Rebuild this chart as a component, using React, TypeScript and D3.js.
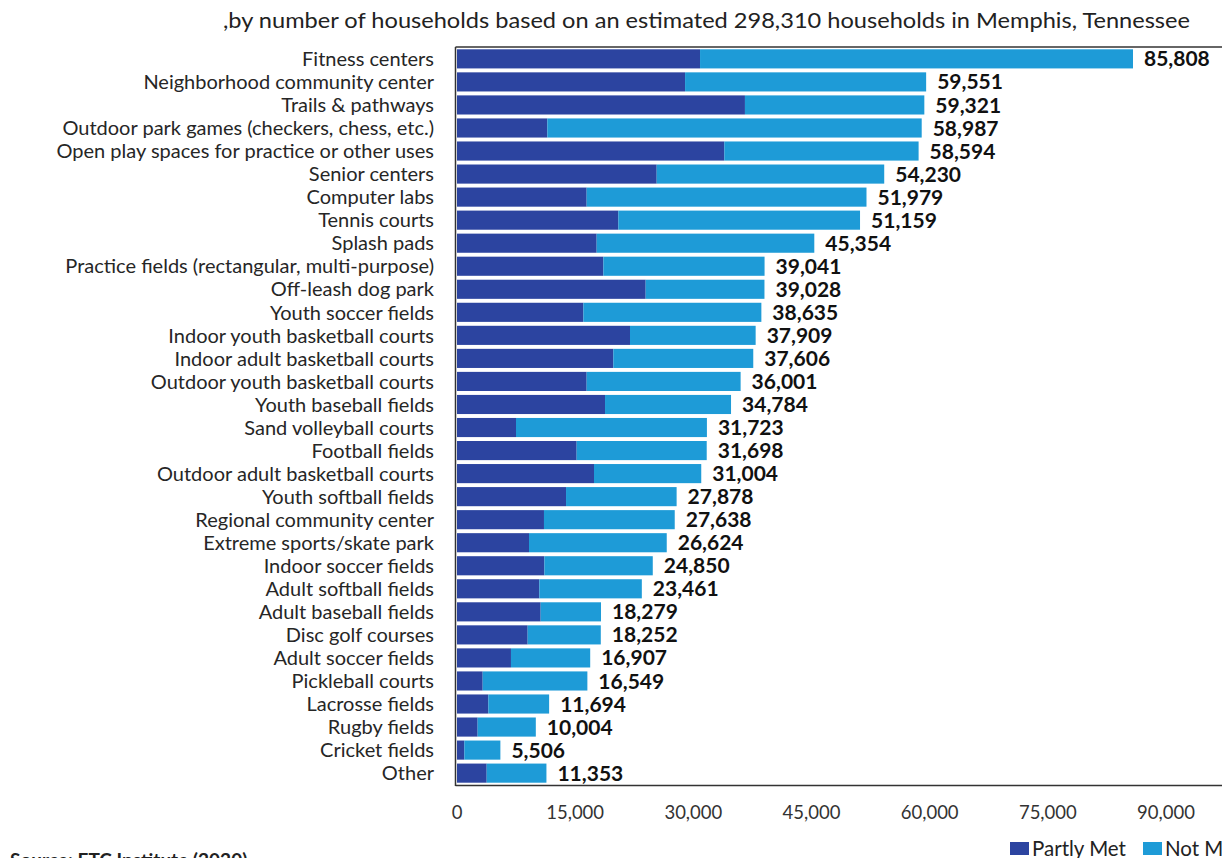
import React from "react";
import * as d3 from "d3";

const categories = [
  "Fitness centers",
  "Neighborhood community center",
  "Trails & pathways",
  "Outdoor park games (checkers, chess, etc.)",
  "Open play spaces for practice or other uses",
  "Senior centers",
  "Computer labs",
  "Tennis courts",
  "Splash pads",
  "Practice fields (rectangular, multi-purpose)",
  "Off-leash dog park",
  "Youth soccer fields",
  "Indoor youth basketball courts",
  "Indoor adult basketball courts",
  "Outdoor youth basketball courts",
  "Youth baseball fields",
  "Sand volleyball courts",
  "Football fields",
  "Outdoor adult basketball courts",
  "Youth softball fields",
  "Regional community center",
  "Extreme sports/skate park",
  "Indoor soccer fields",
  "Adult softball fields",
  "Adult baseball fields",
  "Disc golf courses",
  "Adult soccer fields",
  "Pickleball courts",
  "Lacrosse fields",
  "Rugby fields",
  "Cricket fields",
  "Other",
];

const totals = [
  85808, 59551, 59321, 58987, 58594, 54230, 51979, 51159, 45354, 39041, 39028,
  38635, 37909, 37606, 36001, 34784, 31723, 31698, 31004, 27878, 27638, 26624,
  24850, 23461, 18279, 18252, 16907, 16549, 11694, 10004, 5506, 11353,
];

const partlyMet = [
  30850, 28950, 36550, 11470, 33930, 25350, 16460, 20480, 17730, 18580, 23950,
  16040, 21960, 19840, 16460, 18790, 7490, 15190, 17390, 13840, 11040, 9140,
  11090, 10450, 10620, 8970, 6850, 3260, 3980, 2620, 930, 3770,
];

const xTicks = [0, 15000, 30000, 45000, 60000, 75000, 90000];

const subtitle =
  ",by number of households based on an estimated 298,310 households in Memphis, Tennessee";
const source = "Source: ETC Institute (2020)";
const seriesNames = ["Partly Met", "Not Met"];

const DARK = "#2C44A0";
const LIGHT = "#1E9BD7";
const FONT = "Lato, 'Liberation Sans', sans-serif";

export default function App() {
  const W = 1222;
  const H = 858;
  const x = d3.scaleLinear().domain([0, 90000]).range([457, 457 + 90000 * 0.007878]);
  const y = d3
    .scaleBand<string>()
    .domain(categories)
    .range([47, 785])
    .paddingInner(0.17)
    .paddingOuter(0.1);
  const fmt = d3.format(",");

  return (
    <svg
      width={W}
      height={H}
      style={{ position: "absolute", left: 0, top: 0, background: "#fff" }}
      fontFamily={FONT}
    >
      <text x={223} y={28} fontSize={21} fill="#222" textLength={967} lengthAdjust="spacingAndGlyphs">
        {subtitle}
      </text>

      {categories.map((c, i) => {
        const y0 = y(c)!;
        const bw = y.bandwidth();
        return (
          <g key={c}>
            <text
              x={434}
              y={y0 + bw / 2}
              dy="0.36em"
              textAnchor="end"
              fontSize={20}
              fill="#262626"
            >
              {c}
            </text>
            <rect x={x(0)} y={y0} width={x(partlyMet[i]) - x(0)} height={bw} fill={DARK} />
            <rect
              x={x(partlyMet[i])}
              y={y0}
              width={x(totals[i]) - x(partlyMet[i])}
              height={bw}
              fill={LIGHT}
            />
            <text
              x={x(totals[i]) + 11}
              y={y0 + bw / 2}
              dy="0.36em"
              fontSize={21}
              fontWeight="bold"
              fill="#111"
            >
              {fmt(totals[i])}
            </text>
          </g>
        );
      })}

      {/* frame */}
      <line x1={455.5} x2={W} y1={47} y2={47} stroke="#333" strokeWidth={1.5} />
      <line x1={455.5} x2={W} y1={785.5} y2={785.5} stroke="#333" strokeWidth={1.5} />
      <line x1={455.5} x2={455.5} y1={47} y2={786} stroke="#333" strokeWidth={1.5} />

      {xTicks.map((t) => (
        <text key={t} x={x(t)} y={819} textAnchor="middle" fontSize={18.5} fill="#333">
          {fmt(t)}
        </text>
      ))}

      {/* legend */}
      <rect x={1010} y={842} width={19} height={13} fill={DARK} />
      <text x={1032} y={856} fontSize={20.5} fill="#222">
        {seriesNames[0]}
      </text>
      <rect x={1143} y={842} width={19} height={13} fill={LIGHT} />
      <text x={1165} y={856} fontSize={20.5} fill="#222">
        {seriesNames[1]}
      </text>

      <text x={10} y={867} fontSize={19} fontWeight="bold" fill="#222">
        {source}
      </text>
    </svg>
  );
}
